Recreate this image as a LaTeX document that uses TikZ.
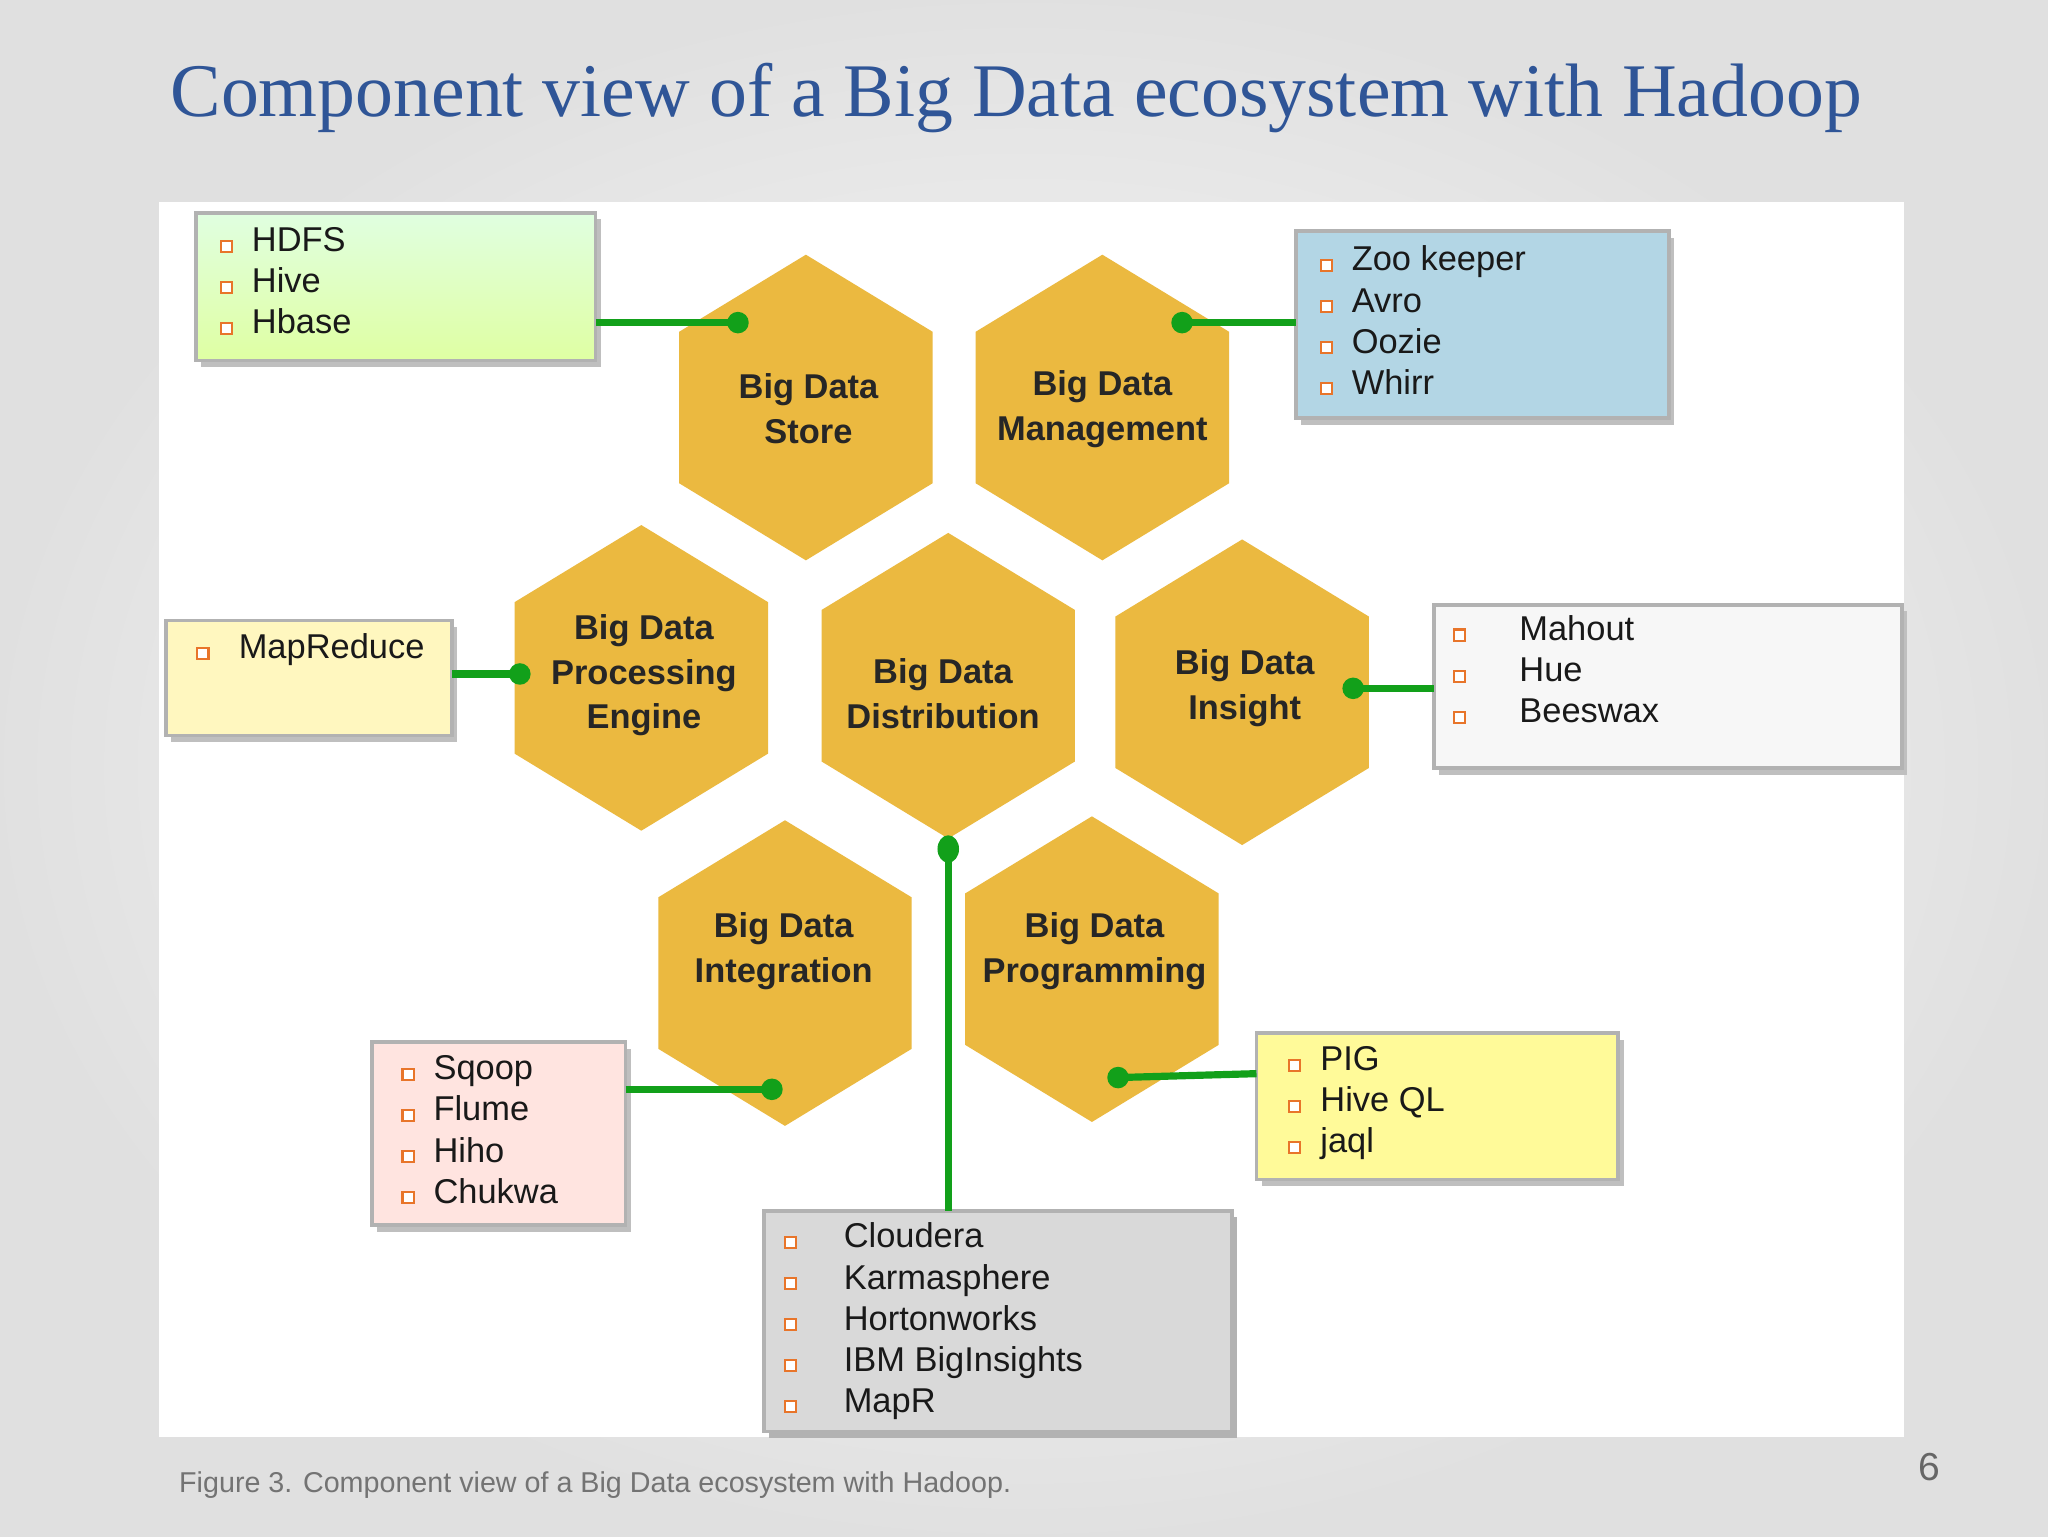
\documentclass[tikz,border=0pt]{standalone}
\usepackage{fontspec}
\setmainfont{Liberation Sans}
\newfontfamily\titlefont{Liberation Serif}
\usetikzlibrary{shadings,shapes.geometric}
\definecolor{hexc}{HTML}{EBB940}
\definecolor{linkc}{HTML}{12A01A}
\definecolor{titc}{HTML}{2F5597}
\definecolor{bulc}{HTML}{E8752A}
\newcommand{\bq}{\tikz[x=1cm,y=1cm,baseline=0pt]\draw[bulc,line width=0.9pt,fill=white] (0,0) rectangle (0.17,0.17);\hspace{0.55em}}
\tikzset{
  hexnode/.style={font=\bfseries\fontsize{15}{19.5}\selectfont,align=center,text=black!85},
  listbox/.style={draw=black!30,line width=1.6pt},
  listtext/.style={anchor=north west,align=left,font=\fontsize{15}{17.9}\selectfont,inner sep=0pt,text=black!90},
  link/.style={linkc,line width=1.1mm},
  dot/.style={circle,fill=linkc,inner sep=0pt,minimum size=3.3mm}
}
\newcommand{\hexa}[3]{% name, cx, cy
  \fill[hexc] (#2,#3-117) -- (#2+97,#3-58) -- (#2+97,#3+58) -- (#2,#3+117) -- (#2-97,#3+58) -- (#2-97,#3-58) -- cycle;
  \coordinate (#1) at (#2,#3);}
\begin{document}
\begin{tikzpicture}[x=0.2mm,y=-0.2mm]
\shade[inner color=white,outer color=black!12] (0,0) rectangle (1568,1176);
\useasboundingbox (0,0) rectangle (1568,1176);
\node[text=titc,font=\titlefont\fontsize{33}{38}\selectfont] (title) at (778,75) {Component view of a Big Data ecosystem with Hadoop};
\fill[white] (122,155) rectangle (1458,1100);
% boxes
\fill[black!25] (154,168) rectangle (460,281);
\shade[top color=green!12!white,bottom color=green!45!lime!25!white!85!yellow] (150,163) rectangle (456,276);
\draw[listbox] (150,163) rectangle (456,276);
\fill[black!25] (996,182) rectangle (1282,325);
\fill[fill=blue!30!cyan!22!white!90!black] (992,177) rectangle (1278,320);
\draw[listbox] (992,177) rectangle (1278,320);
\fill[black!25] (131,480) rectangle (350,568);
\fill[fill=orange!25!yellow!25!white] (127,475) rectangle (346,563);
\draw[listbox] (127,475) rectangle (346,563);
\fill[black!25] (1102,468) rectangle (1460,593);
\fill[black!3] (1098,463) rectangle (1456,588);
\draw[listbox] (1098,463) rectangle (1456,588);
\fill[black!25] (289,803) rectangle (483,943);
\fill[fill=orange!22!red!12!white] (285,798) rectangle (479,938);
\draw[listbox] (285,798) rectangle (479,938);
\fill[black!25] (966,796) rectangle (1243,908);
\fill[fill=yellow!40!white] (962,791) rectangle (1239,903);
\draw[listbox] (962,791) rectangle (1239,903);
\fill[black!30] (589,932) rectangle (947,1101);
\fill[fill=black!15] (585,927) rectangle (943,1096);
\draw[listbox] (585,927) rectangle (943,1096);
% texts of boxes
\node[listtext] (t1) at (168,174) {\bq HDFS\\\bq Hive\\\bq Hbase};
\node[listtext] (t2) at (1010,188) {\bq Zoo keeper\\\bq Avro\\\bq Oozie\\\bq Whirr};
\node[listtext] (t3) at (150,485) {\bq\hspace{0.3em}MapReduce};
\node[listtext] (t4) at (1112,471) {\bq\hspace{1em}Mahout\\\bq\hspace{1em}Hue\\\bq\hspace{1em}Beeswax};
\node[listtext] (t5) at (307,808) {\bq Sqoop\\\bq Flume\\\bq Hiho\\\bq Chukwa};
\node[listtext] (t6) at (986,801) {\bq PIG\\\bq Hive QL\\\bq jaql};
\node[listtext] (t7) at (600,936) {\bq\hspace{0.8em}Cloudera\\\bq\hspace{0.8em}Karmasphere\\\bq\hspace{0.8em}Hortonworks\\\bq\hspace{0.8em}IBM BigInsights\\\bq\hspace{0.8em}MapR};
% hexes
\hexa{hs}{617}{312}
\hexa{hm}{844}{312}
\hexa{hp}{491}{519}
\hexa{hd}{726}{525}
\hexa{hi}{951}{530}
\hexa{hg}{601}{745}
\hexa{hr}{836}{742}
\node[hexnode] (ls) at (619,313) {Big Data\\Store};
\node[hexnode] (lm) at (844,313) {Big Data\\Management};
\node[hexnode] (lp) at (493,517) {Big Data\\Processing\\Engine};
\node[hexnode] (ld) at (722,531) {Big Data\\Distribution};
\node[hexnode] (li) at (953,527) {Big Data\\Insight};
\node[hexnode] (lg) at (600,728) {Big Data\\Integration};
\node[hexnode] (lr) at (838,728) {Big Data\\Programming};
% connectors
\coordinate (a1) at (456,247); \node[dot] (d1) at (565,247) {};
\coordinate (a2) at (992,247); \node[dot] (d2) at (905,247) {};
\coordinate (a3) at (346,516); \node[dot] (d3) at (398,516) {};
\coordinate (a4) at (1098,527); \node[dot] (d4) at (1036,527) {};
\coordinate (a5) at (479,834); \node[dot] (d5) at (591,834) {};
\coordinate (a6) at (962,822); \node[dot] (d6) at (856,825) {};
\coordinate (a7) at (726,927); \node[ellipse,fill=linkc,inner sep=0pt,minimum width=3.3mm,minimum height=4.2mm] (d7) at (726,650) {};
\draw[link] (a1) -- (d1.center);
\draw[link] (a2) -- (d2.center);
\draw[link] (a3) -- (d3.center);
\draw[link] (a4) -- (d4.center);
\draw[link] (a5) -- (d5.center);
\draw[link] (a6) -- (d6.center);
\draw[link] (a7) -- (d7.center);
\node[anchor=west,text=black!55,font=\fontsize{12.5}{15}\selectfont] (cap) at (131,1137) {Figure 3. Component view of a Big Data ecosystem with Hadoop.};
\node[text=black!60,font=\fontsize{17}{18}\selectfont] (pg) at (1477,1123) {6};
\end{tikzpicture}
\end{document}
